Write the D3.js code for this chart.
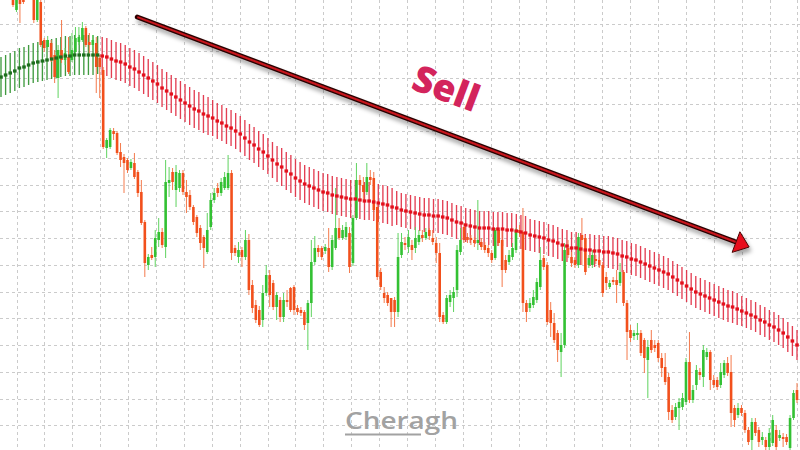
<!DOCTYPE html>
<html><head><meta charset="utf-8">
<script src="https://cdn.jsdelivr.net/npm/d3@7"></script>
<style>html,body{margin:0;padding:0;background:#fff;overflow:hidden}</style>
</head><body>
<svg id="chart" width="800" height="450"></svg>
<script>
// ---- candle data (price points) ----
const openP = [
455,440,452,456,453,470,460,430,448,410,
403,407,395,372,400,390,393,390,398,408,
410,422,408,405,407,392,380,302,303,319,
317,298,293,290,282,287,278,258,228,185,
195,193,210,218,203,267,278,260,262,277,
258,255,243,233,222,213,198,223,250,262,
257,262,262,277,202,193,200,193,210,165,
145,140,130,157,175,167,143,150,133,150,
162,163,142,140,138,127,147,188,202,202,
199,202,183,202,222,212,213,217,187,232,
270,265,258,273,272,243,178,157,155,152,
150,138,195,207,203,205,202,208,215,212,
220,212,207,197,135,128,148,152,160,198,
223,213,212,210,207,208,205,202,197,192,
220,210,190,188,193,200,220,218,147,142,
145,150,163,192,185,140,127,117,98,105,
202,193,190,185,215,212,185,185,191,190,
185,173,163,170,170,167,178,147,120,114,
115,117,110,90,110,105,107,92,83,73,
40,33,42,43,48,88,50,65,78,73,
93,98,70,70,65,75,87,78,42,35,
42,37,20,10,28,20,10,10,3,7,
20,12,13,13,2,32,60];
const highP = [
460,458,456,460,470,475,465,455,453,412,
414,410,400,405,430,402,413,417,423,423,
428,424,417,415,413,395,383,312,322,322,
319,307,296,292,291,297,280,270,230,196,
203,220,232,222,290,283,282,285,280,280,
270,260,245,235,225,215,237,257,262,267,
272,278,295,280,205,208,203,220,216,170,
150,144,165,185,180,170,158,153,157,160,
163,165,145,143,140,150,210,214,205,204,
206,222,215,262,232,225,228,223,235,287,
275,273,287,280,278,245,182,163,158,152,
153,217,217,213,220,210,223,220,220,222,
222,220,213,207,138,155,160,163,205,222,
227,217,215,213,250,212,208,205,200,222,
222,220,195,200,207,222,225,242,150,152,
160,172,203,195,188,148,137,120,117,207,
210,198,193,217,232,215,195,200,195,193,
188,178,170,173,180,187,180,150,125,120,
127,120,112,110,120,110,110,97,97,77,
45,47,52,57,92,118,65,85,82,105,
102,100,75,73,87,90,93,95,45,47,
45,40,23,32,32,23,18,13,22,35,
25,20,17,16,35,60,67];
const lowP = [
443,438,427,446,450,452,427,428,403,398,
400,388,367,352,387,385,376,388,395,405,
408,403,397,400,357,352,301,292,301,310,
295,283,257,277,280,271,253,225,173,180,
190,183,203,202,192,253,260,243,258,255,
237,240,225,213,200,182,196,220,247,253,
254,260,260,190,194,187,183,190,155,137,
127,123,123,154,143,140,130,128,128,143,
138,135,135,134,120,100,133,185,193,190,
196,178,180,200,210,210,210,177,184,230,
260,250,255,265,230,170,160,147,144,123,
123,133,192,200,197,190,197,205,208,210,
210,205,187,128,126,126,143,138,153,195,
207,207,205,203,200,200,197,193,187,190,
204,163,177,185,190,197,213,138,128,138,
142,147,160,180,125,113,107,88,73,102,
192,183,182,182,185,175,182,182,186,182,
153,160,161,165,147,164,144,90,108,110,
110,94,77,52,97,98,88,73,65,30,
27,30,20,40,45,47,47,60,70,63,
90,60,62,60,62,72,74,23,23,32,
34,17,5,0,14,3,5,-2,0,4,
0,9,3,5,-2,30,47];
const closeP = [
445,453,446,448,465,455,430,450,405,402,
410,392,373,400,390,397,378,400,412,413,
422,405,405,410,383,383,303,310,320,316,
297,290,287,280,288,273,257,227,187,193,
192,212,218,205,268,270,268,278,277,258,
253,243,228,217,207,202,220,250,257,257,
268,273,277,197,197,200,193,210,160,142,
130,125,157,175,155,143,155,133,150,148,
140,140,138,137,125,147,188,202,198,193,
203,183,210,222,212,220,223,183,232,270,
265,258,273,270,240,173,163,152,147,138,
138,193,208,205,213,200,212,215,212,218,
214,208,197,133,128,152,155,158,200,210,
210,210,210,207,210,203,200,197,190,220,
207,180,180,195,202,220,217,147,138,147,
153,168,190,183,128,127,110,100,105,200,
195,187,185,213,210,178,192,195,189,185,
157,167,167,168,165,178,147,118,112,117,
117,97,92,103,100,102,92,82,68,38,
30,43,48,52,88,50,60,80,75,100,
98,70,65,63,78,87,77,37,30,42,
37,20,8,28,17,8,13,3,17,30,
3,15,11,8,32,57,50];

// ---- moving-average band (centre and half width, price points) ----
const bandMid = [
373,375,377,379,382,383,385,387,388,389,
390,391,392,393,394,394,395,395,395,395,
395,395,394,393,391,389,388,386,383,381,
378,375,372,369,366,362,359,356,353,350,
347,344,341,339,336,334,332,329,327,324,
322,319,316,312,308,305,301,298,294,290,
286,283,279,276,272,269,266,264,262,260,
258,257,255,254,253,252,251,251,250,249,
249,248,247,246,245,243,242,240,239,238,
237,236,235,235,234,234,233,232,230,228,
227,225,224,223,222,222,222,221,221,221,
220,220,219,218,217,215,214,213,212,210,
209,207,205,204,202,202,201,200,200,199,
199,198,198,197,196,194,193,191,190,188,
186,184,182,180,178,176,173,170,167,164,
161,158,156,154,152,150,148,146,144,143,
141,139,137,135,133,130,128,125,123,120,
117,113,109,105];
const bandHalf = [
20,20,20,20,20,20,20,20,20,20,20,20,20,20,20,20,20,20,20,20,20,
19,19,19,19,19,19,19,19,19,19,19,19,19,19,19,19,19,19,19,19,19,19,19,19,19,
18,18,18,18,18,18,18,18,18,18,18,18,18,18,18,
19,19,19,19,19,19,19,19,19,19,19,19,19,19,19,19,19,19,19,19,19,19,19,19,19,
17,17,17,17,17,17,17,17,17,17,17,17,17,17,17,17,17,17,17,17,17,17,17,17,17,17,17,17,17,
16,16,16,16,16,16,16,16,16,16,16,16,16,16,16,16,16,16,16,16,16,16,16,
16,16,16,16,16,16,16,16,16,16,16,16,16,16,16,16,16,16,16,16,16,16,16,
15,15,15,15,15,15,15,15,15,15,15,15,15];

// ---- annotation (candle index, price) ----
const arrowFrom = [35.8, 433];
const arrowTo = [212.2, 203];
const labelText = "Sell";
const labelAt = [125, 363];
const watermarkText = "Cheragh";

const W = 800, H = 450;
const svg = d3.select("#chart");
const y = d3.scaleLinear().domain([0, 450]).range([H, 0]);
const x = d3.scaleLinear().domain([0, openP.length - 1]).range([13, 797]);
const xb = d3.scaleLinear().domain([0, bandMid.length - 1]).range([1, 797]);

const defs = svg.append("defs");
defs.append("clipPath").attr("id", "plot").append("rect").attr("width", W).attr("height", H);
const f = defs.append("filter").attr("id", "shadow").attr("x", "-10%").attr("y", "-20%").attr("width", "120%").attr("height", "160%");
f.append("feDropShadow").attr("dx", 2).attr("dy", 4).attr("stdDeviation", 2.2)
  .attr("flood-color", "#000").attr("flood-opacity", 0.35);

svg.append("rect").attr("width", W).attr("height", H).attr("fill", "#fff");

// grid
const gridIdx = d3.range(0, 29).map(k => 1.01 + 8.04 * k);
const gridPrice = d3.range(-1, 17).map(k => 426 - 26.75 * k);
const grid = svg.append("g").attr("stroke", "#cbcbcb").attr("stroke-width", 1).attr("stroke-dasharray", "3,3");
grid.selectAll("line.v").data(gridIdx).join("line").attr("class", "v")
  .attr("x1", d => Math.round(x(d)) + 0.5).attr("x2", d => Math.round(x(d)) + 0.5)
  .attr("y1", 0).attr("y2", H);
grid.selectAll("line.h").data(gridPrice).join("line").attr("class", "h")
  .attr("y1", d => Math.round(y(d)) + 0.5).attr("y2", d => Math.round(y(d)) + 0.5)
  .attr("x1", 0).attr("x2", W);

const plot = svg.append("g").attr("clip-path", "url(#plot)");

// band trend colour from slope of centre line
const bandUp = [];
bandMid.forEach((m, k) => {
  if (k === 0) bandUp.push(bandMid[1] >= m);
  else if (m > bandMid[k - 1]) bandUp.push(true);
  else if (m < bandMid[k - 1]) bandUp.push(false);
  else bandUp.push(bandUp[k - 1]);
});
const band = bandMid.map((m, k) => ({ k, m, h: bandHalf[k], up: bandUp[k] }));

plot.append("g").selectAll("line").data(band).join("line")
  .attr("x1", d => xb(d.k)).attr("x2", d => xb(d.k))
  .attr("y1", d => y(d.m + d.h)).attr("y2", d => y(d.m - d.h))
  .attr("stroke", d => d.up ? "#369636" : "#e02a40")
  .attr("stroke-opacity", d => d.up ? 0.95 : 0.9)
  .attr("stroke-width", 1.35);

// candles
const candles = openP.map((o, i) => ({ i, o, h: highP[i], l: lowP[i], c: closeP[i] }));
const bullBody = "#33c133", bearBody = "#f2501c";
const bullWick = "#5fd35f", bearWick = "#f47a4c";
const cg = plot.append("g");
cg.selectAll("line").data(candles).join("line")
  .attr("x1", d => x(d.i)).attr("x2", d => x(d.i))
  .attr("y1", d => y(d.h)).attr("y2", d => y(d.l))
  .attr("stroke", d => d.c >= d.o ? bullWick : bearWick)
  .attr("stroke-width", 1);
const bw = 2.6;
cg.selectAll("rect").data(candles).join("rect")
  .attr("x", d => x(d.i) - bw / 2).attr("width", bw)
  .attr("y", d => y(Math.max(d.o, d.c)))
  .attr("height", d => Math.max(1.2, Math.abs(y(d.o) - y(d.c))))
  .attr("fill", d => d.c >= d.o ? bullBody : bearBody);

// band centre dots
plot.append("g").selectAll("rect").data(band).join("rect")
  .attr("x", d => xb(d.k) - 1.8).attr("y", d => y(d.m) - 1.6)
  .attr("width", 3.6).attr("height", 3.2)
  .attr("fill", d => d.up ? "#1d6e1d" : "#e3101c");

// arrow
const p0 = [x(arrowFrom[0]), y(arrowFrom[1])];
const p1 = [x(arrowTo[0]), y(arrowTo[1])];
const dx = p1[0] - p0[0], dy = p1[1] - p0[1], len = Math.hypot(dx, dy);
const ux = dx / len, uy = dy / len;
const headL = 14, headW = 11;
const bx = p1[0] - ux * headL, by = p1[1] - uy * headL;
const ag = svg.append("g").attr("filter", "url(#shadow)");
ag.append("line").attr("x1", p0[0]).attr("y1", p0[1]).attr("x2", bx + ux * 2).attr("y2", by + uy * 2)
  .attr("stroke", "#2b0606").attr("stroke-width", 4.8).attr("stroke-linecap", "round");
ag.append("line").attr("x1", p0[0] + ux).attr("y1", p0[1] + uy).attr("x2", bx + ux * 2).attr("y2", by + uy * 2)
  .attr("stroke", "#c8141c").attr("stroke-width", 2).attr("stroke-linecap", "round");
ag.append("path")
  .attr("d", `M${p1[0]},${p1[1]}L${bx - uy * headW},${by + ux * headW}L${bx + uy * headW},${by - ux * headW}Z`)
  .attr("fill", "#e8101c").attr("stroke", "#4a0606").attr("stroke-width", 1).attr("stroke-linejoin", "round");

// label
const ang = Math.atan2(dy, dx) * 180 / Math.PI;
svg.append("text")
  .attr("transform", `translate(${x(labelAt[0])},${y(labelAt[1])}) rotate(${ang})`)
  .attr("text-anchor", "middle").attr("dominant-baseline", "central")
  .attr("font-family", "'Open Sans', 'Noto Sans', sans-serif")
  .attr("font-weight", 800).attr("font-size", 37)
  .attr("fill", "#d3245c").text(labelText);

// watermark
const wm = svg.append("g").attr("fill", "#a2a2a2");
wm.append("text").attr("x", 345).attr("y", 429)
  .attr("font-family", "'Open Sans', 'Noto Sans', sans-serif").attr("font-size", 24)
  .attr("font-weight", 600)
  .attr("textLength", 113).attr("lengthAdjust", "spacingAndGlyphs").text(watermarkText);
wm.append("rect").attr("x", 345).attr("y", 433.5).attr("width", 76).attr("height", 2);
</script>
</body></html>
